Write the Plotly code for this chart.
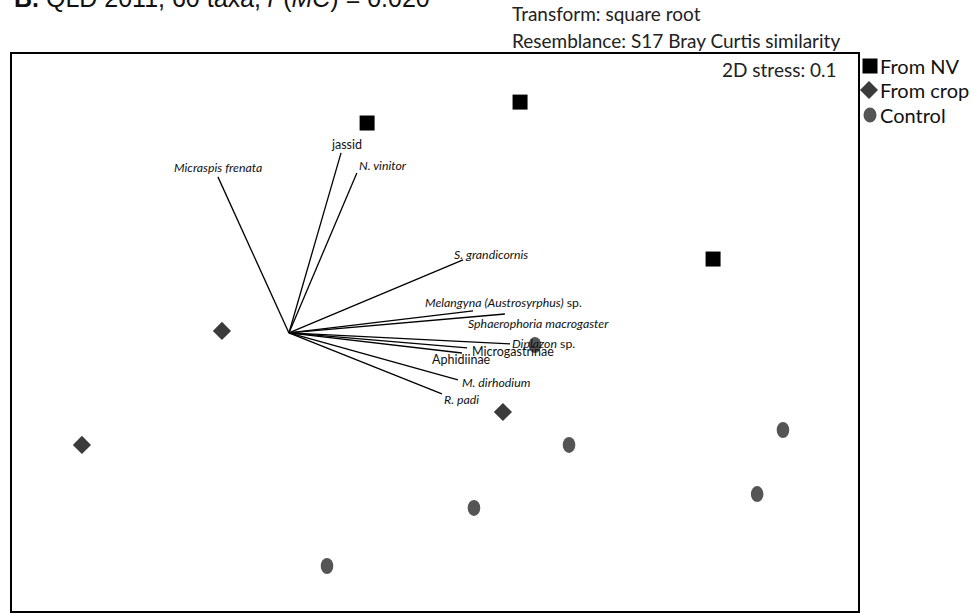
import plotly.graph_objects as go

# ---------------- data (nMDS coordinates) ----------------
nv_x = [-0.305, 0.382, 1.249]
nv_y = [0.941, 1.035, 0.330]

crop_x = [-0.957, 0.305, -1.586]
crop_y = [0.007, -0.357, -0.505]

ctrl_x = [0.449, 0.602, 1.563, 1.447, 0.175, -0.485]
ctrl_y = [-0.056, -0.505, -0.438, -0.726, -0.788, -1.049]

vec_origin = (-0.656, -0.002)
vec_names = ["<i>Micraspis frenata</i>", "jassid", "<i>N. vinitor</i>",
             "<i>S. grandicornis</i>", "<i>Melangyna (Austrosyrphus)</i> sp.",
             "<i>Sphaerophoria macrogaster</i>", "<i>Diplazon</i> sp.",
             "Microgastrinae", "Aphidiinae", "<i>M. dirhodium</i>", "<i>R. padi</i>"]
vec_dx = [-0.319, 0.234, 0.305, 0.782, 0.827, 0.970, 0.993, 0.800, 0.777, 0.759, 0.687]
vec_dy = [0.701, 0.809, 0.719, 0.328, 0.099, 0.085, -0.049, -0.067, -0.090, -0.211, -0.274]

legend_labels = ["From NV", "From crop", "Control"]
title_text = "<b>B.</b> QLD 2011, 60 taxa, <i>r</i> (<i>MC</i>) = 0.020"
header_lines = ["Transform: square root", "Resemblance: S17 Bray Curtis similarity"]
stress_text = "2D stress: 0.1"

# ---------------- styles / layout ----------------
W, H = 974, 613
ML, MR, MT, MB = 12, 116, 54, 2
PW, PH = W - ML - MR, H - MT - MB

def px(x):
    return (x - ML) / PW

def py(y):
    return (H - MB - y) / PH

C_NV, C_CROP, C_CTRL = "#000000", "#3b3b3b", "#555555"
LABEL_FONT = "Lato"

# label placement styles: (xanchor, xshift px, yshift px, size)
label_style = [
    ("center", 0, 9, 12.3), ("center", 5, 8, 12.5), ("left", 0, 7, 12.3),
    ("left", -11, 5, 12.3), ("center", 30, 8, 12.3), ("center", 34, -9, 12.3),
    ("left", 0, 0, 12.3), ("left", 3, -4, 12.5), ("center", 0, -7, 12.5),
    ("left", 2, -3, 12.3), ("left", 0, -6, 12.3),
]

fig = go.Figure()

ox, oy = vec_origin
for name, dx, dy in zip(vec_names, vec_dx, vec_dy):
    fig.add_trace(go.Scatter(x=[ox, ox + dx], y=[oy, oy + dy], mode="lines",
                             line=dict(color="black", width=1.3),
                             showlegend=False, hoverinfo="skip"))

fig.add_trace(go.Scatter(x=nv_x, y=nv_y, mode="markers", name=legend_labels[0],
                         marker=dict(symbol="square", size=15, color=C_NV), showlegend=False))
fig.add_trace(go.Scatter(x=crop_x, y=crop_y, mode="markers", name=legend_labels[1],
                         marker=dict(symbol="diamond", size=14, color=C_CROP), showlegend=False))
fig.add_trace(go.Scatter(x=ctrl_x, y=ctrl_y, mode="markers", name=legend_labels[2],
                         marker=dict(symbol="circle", size=12, color=C_CTRL), showlegend=False))

shapes = []
# control points drawn as ellipses (slightly taller than wide)
for x, y in zip(ctrl_x, ctrl_y):
    shapes.append(dict(type="circle", xref="x", yref="y", xsizemode="pixel", ysizemode="pixel",
                       xanchor=x, yanchor=y, x0=-6.3, x1=6.3, y0=-8, y1=8,
                       fillcolor=C_CTRL, line=dict(width=0), layer="above"))

annotations = []
for (name, dx, dy), (xa, xs, ys, sz) in zip(zip(vec_names, vec_dx, vec_dy), label_style):
    annotations.append(dict(x=ox + dx, y=oy + dy, xref="x", yref="y", text=name,
                            showarrow=False, xanchor=xa, yanchor="middle",
                            xshift=xs, yshift=ys,
                            font=dict(family=LABEL_FONT, size=sz, color="#111")))

# title (partly cut at top like the reference)
annotations.append(dict(x=px(12), y=py(-2), xref="paper", yref="paper", text=title_text,
                        showarrow=False, xanchor="left", yanchor="middle",
                        font=dict(family="Liberation Sans", size=25, color="#111")))
for i, t in enumerate(header_lines):
    annotations.append(dict(x=px(510), y=py(14 + 26 * i), xref="paper", yref="paper", text=t,
                            showarrow=False, xanchor="left", yanchor="middle",
                            font=dict(family=LABEL_FONT, size=19, color="#222")))
annotations.append(dict(x=px(839), y=py(70), xref="paper", yref="paper", text=stress_text,
                        showarrow=False, xanchor="right", yanchor="middle",
                        font=dict(family=LABEL_FONT, size=19, color="#222")))

# manual legend
leg_y = [66, 90, 115]
for lab, yy in zip(legend_labels, leg_y):
    annotations.append(dict(x=px(878), y=py(yy), xref="paper", yref="paper", text=lab,
                            showarrow=False, xanchor="left", yanchor="middle",
                            font=dict(family=LABEL_FONT, size=20, color="#111")))
shapes.append(dict(type="rect", xref="paper", yref="paper", xsizemode="pixel", ysizemode="pixel",
                   xanchor=px(870), yanchor=py(leg_y[0]), x0=-7.5, x1=7.5, y0=-7.5, y1=7.5,
                   fillcolor=C_NV, line=dict(width=0)))
shapes.append(dict(type="path", xref="paper", yref="paper", xsizemode="pixel", ysizemode="pixel",
                   xanchor=px(869), yanchor=py(leg_y[1]),
                   path="M0,9 L9,0 L0,-9 L-9,0 Z", fillcolor=C_CROP, line=dict(width=0)))
shapes.append(dict(type="circle", xref="paper", yref="paper", xsizemode="pixel", ysizemode="pixel",
                   xanchor=px(870), yanchor=py(leg_y[2]), x0=-6.5, x1=6.5, y0=-7.5, y1=7.5,
                   fillcolor=C_CTRL, line=dict(width=0)))

axis_common = dict(showgrid=False, zeroline=False, showticklabels=False, ticks="",
                   showline=True, mirror=True, linecolor="black", linewidth=2)

fig.update_layout(
    width=W, height=H,
    margin=dict(l=ML, r=MR, t=MT, b=MB),
    paper_bgcolor="white", plot_bgcolor="white",
    xaxis=dict(range=[-1.9, 1.9], **axis_common),
    yaxis=dict(range=[-1.251, 1.251], **axis_common),
    shapes=shapes, annotations=annotations, showlegend=False,
)

fig.write_html("out.html", config={"displayModeBar": False},
               post_script="document.body.style.margin='0px';document.body.style.overflow='hidden';")
